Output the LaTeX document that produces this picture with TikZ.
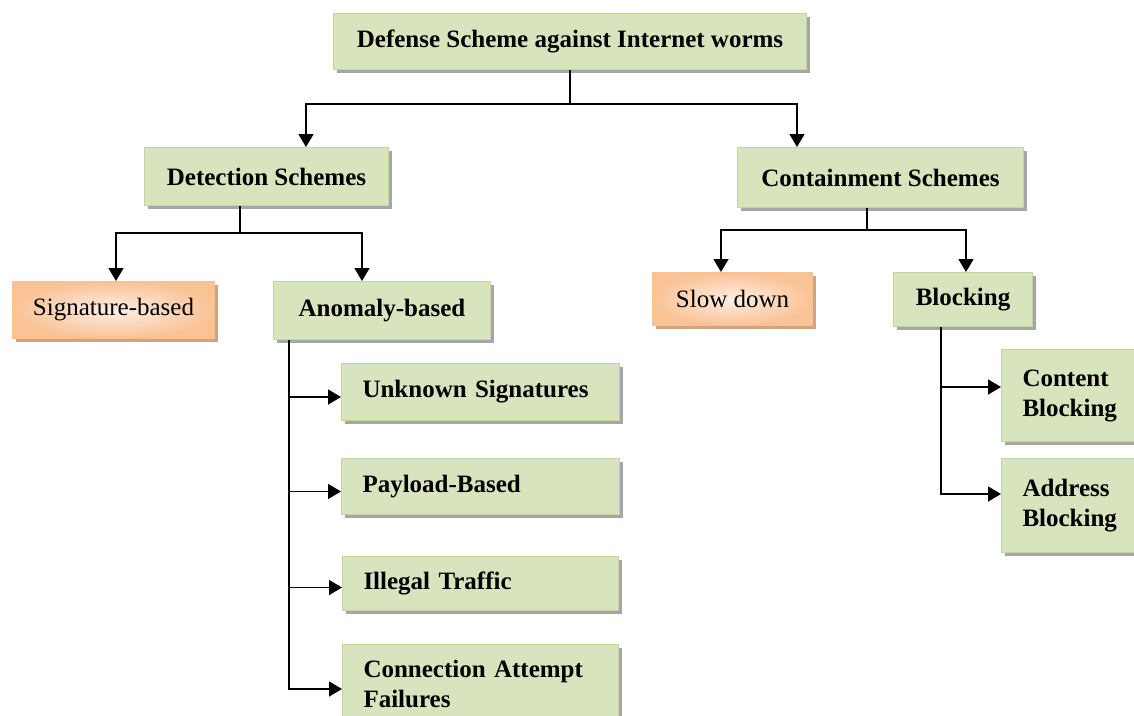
\documentclass[tikz,border=0pt]{standalone}
\usepackage{fontspec}
\setmainfont{Liberation Serif}
\usetikzlibrary{arrows.meta,shadows}
\definecolor{gfill}{HTML}{D7E4BD}
\definecolor{gborder}{HTML}{C3D69B}
\definecolor{gshadow}{HTML}{A6A6A6}
\definecolor{oin}{HTML}{FDEEE3}
\definecolor{oout}{HTML}{FAC396}
\definecolor{oborder}{HTML}{FAC090}
\definecolor{oshadow}{HTML}{CDA584}
\begin{document}
\begin{tikzpicture}[x=1pt,y=-1pt,
  box/.style={anchor=north west, rectangle, line width=1pt, inner sep=0pt},
  gbox/.style={box, fill=gfill, draw=gborder, font=\fontsize{25}{30}\selectfont\bfseries,
    general shadow={fill=gshadow, shadow xshift=3pt, shadow yshift=-3pt}},
  obox/.style={box, inner color=oin, outer color=oout, draw=oborder, font=\fontsize{25}{30}\selectfont,
    general shadow={fill=oshadow, shadow xshift=3pt, shadow yshift=-3pt}},
  lbox/.style={gbox, align=left, inner xsep=21pt},
  link/.style={line width=1.5pt, black},
  arr/.style={link, -{Triangle[length=13pt,width=15pt]}}
]
\clip (0,0) rectangle (1134,715);
\fill[white] (0,0) rectangle (1134,715);

\node[gbox, minimum width=473pt, minimum height=56pt] (top) at (333,13) {Defense Scheme against Internet worms};
\node[gbox, minimum width=244pt, minimum height=58pt] (det) at (144,147) {Detection Schemes};
\node[gbox, minimum width=286pt, minimum height=60pt] (cont) at (737,147) {Containment Schemes};
\node[obox, minimum width=202pt, minimum height=57pt] (sig) at (12,281) {Signature-based};
\node[gbox, minimum width=217pt, minimum height=58pt] (anom) at (273,281) {Anomaly-based};
\node[obox, minimum width=160pt, minimum height=53pt] (slow) at (652,272) {Slow down};
\node[gbox, minimum width=139pt, minimum height=54pt] (block) at (893,272) {Blocking};
\node[lbox, text width=236pt, minimum height=57pt] (unk) at (341,363) {Unknown Signatures};
\node[lbox, text width=236pt, minimum height=56pt] (pay) at (341,458) {Payload-Based};
\node[lbox, text width=234pt, minimum height=54pt] (ill) at (342,556) {Illegal Traffic};
\node[lbox, text width=234pt, minimum height=78pt] (conn) at (342,644) {Connection Attempt\\Failures};
\node[lbox, text width=110pt, minimum height=92pt] (cb) at (1001,349) {Content\\Blocking};
\node[lbox, text width=110pt, minimum height=94pt] (ab) at (1001,458) {Address\\Blocking};

% top level
\draw[link] (top.south) -- ++(0,34) coordinate (j1);
\draw[arr] (j1) -| ([xshift=162pt]det.north west);
\draw[arr] (j1) -| ([xshift=60pt]cont.north west);

% detection
\draw[link] ([xshift=96pt]det.south west) -- ++(0,27) coordinate (j2);
\draw[arr] (j2) -| ([xshift=104pt]sig.north west);
\draw[arr] (j2) -| ([xshift=89pt]anom.north west);

% containment
\draw[link] ([xshift=130pt]cont.south west) -- ++(0,22) coordinate (j3);
\draw[arr] (j3) -| ([xshift=69pt]slow.north west);
\draw[arr] (j3) -| ([xshift=73pt]block.north west);

% anomaly children
\coordinate (a0) at ([xshift=16pt]anom.south west);
\coordinate (ue) at ([yshift=-5pt]unk.west);
\coordinate (pe) at ([yshift=-5pt]pay.west);
\coordinate (ie) at ([yshift=-4pt]ill.west);
\coordinate (ce) at ([yshift=-45pt]conn.north west);
\draw[arr] (a0) |- (ce);
\draw[arr] (a0 |- ue) -- (ue);
\draw[arr] (a0 |- pe) -- (pe);
\draw[arr] (a0 |- ie) -- (ie);

% blocking children
\coordinate (b0) at ([xshift=48pt]block.south west);
\draw[arr] (b0) |- ([yshift=-38pt]cb.north west);
\draw[arr] (b0) |- ([yshift=-36pt]ab.north west);
\end{tikzpicture}
\end{document}
